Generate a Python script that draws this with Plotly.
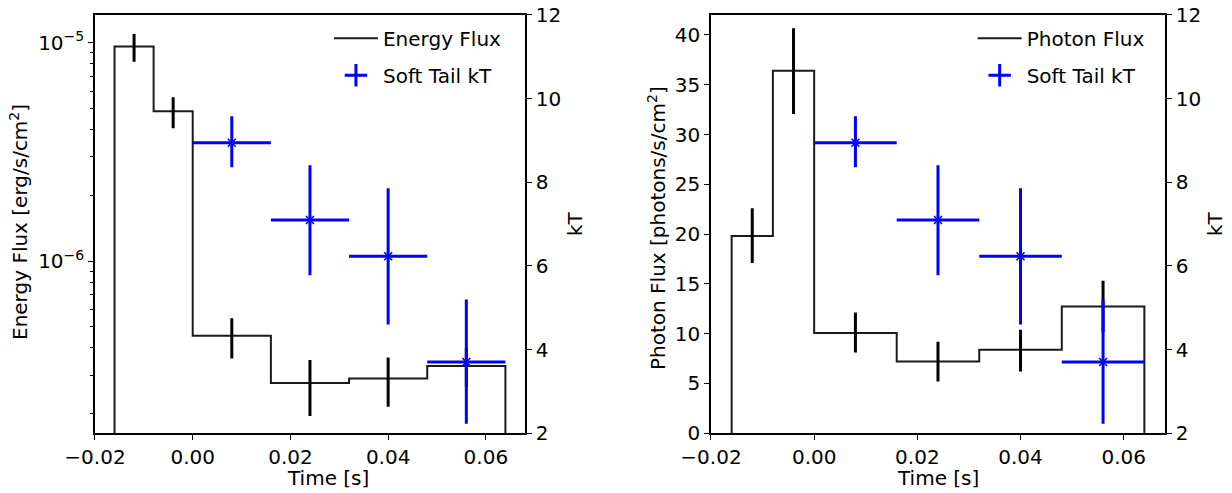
import plotly.graph_objects as go

# ---------------- data ----------------
bin_edges = [-0.016, -0.008, 0.0, 0.016, 0.032, 0.048, 0.064]
bin_centers = [-0.012, -0.004, 0.008, 0.024, 0.040, 0.056]

energy_flux = [9.6e-6, 4.86e-6, 4.55e-7, 2.76e-7, 2.90e-7, 3.31e-7]
energy_flux_hi = [1.096e-5, 5.62e-6, 5.47e-7, 3.52e-7, 3.62e-7, 4.0e-7]
energy_flux_lo = [8.18e-6, 4.06e-6, 3.58e-7, 1.95e-7, 2.15e-7, 2.65e-7]

photon_flux = [19.82, 36.39, 10.06, 7.21, 8.38, 12.73]
photon_flux_hi = [22.6, 40.67, 12.13, 9.18, 10.39, 15.31]
photon_flux_lo = [17.1, 32.07, 8.11, 5.20, 6.20, 10.15]

kt_time = [0.008, 0.024, 0.040, 0.056]
kt_time_halfwidth = [0.008, 0.008, 0.008, 0.008]
kt_value = [8.945, 7.10, 6.234, 3.706]
kt_hi = [9.58, 8.41, 7.86, 5.20]
kt_lo = [8.36, 5.78, 4.60, 2.23]

x_ticks = [-0.02, 0.0, 0.02, 0.04, 0.06]
x_ticktext = ["\u22120.02", "0.00", "0.02", "0.04", "0.06"]
kt_ticks = [2, 4, 6, 8, 10, 12]
log_major = [1e-6, 1e-5]
log_major_text = ["10<sup>\u22126</sup>", "10<sup>\u22125</sup>"]
log_minor = [m * 10 ** e for e in (-7, -6) for m in range(2, 10)]

FONT = "DejaVu Sans"
FS = 20
BLUE = "#0000ff"


def step_xy(edges, vals, base):
    xs, ys = [edges[0]], [base]
    for i, v in enumerate(vals):
        xs += [edges[i], edges[i + 1]]
        ys += [v, v]
    xs.append(edges[-1])
    ys.append(base)
    return xs, ys


fig = go.Figure()

# ---------- left panel ----------
sx, sy = step_xy(bin_edges, energy_flux, 1e-9)
fig.add_trace(go.Scatter(x=sx, y=sy, mode="lines", line=dict(color="#1a1a1a", width=2),
                         name="Energy Flux", xaxis="x", yaxis="y", legend="legend"))
fig.add_trace(go.Scatter(
    x=bin_centers, y=energy_flux, mode="markers", marker=dict(size=0.1, color="black", opacity=0),
    error_y=dict(type="data", symmetric=False,
                 array=[h - v for h, v in zip(energy_flux_hi, energy_flux)],
                 arrayminus=[v - l for v, l in zip(energy_flux, energy_flux_lo)],
                 color="black", thickness=3, width=0),
    showlegend=False, xaxis="x", yaxis="y", hoverinfo="skip"))

# ---------- right panel ----------
sx2, sy2 = step_xy(bin_edges, photon_flux, 0)
fig.add_trace(go.Scatter(x=sx2, y=sy2, mode="lines", line=dict(color="#1a1a1a", width=2),
                         name="Photon Flux", xaxis="x2", yaxis="y3", legend="legend2"))
fig.add_trace(go.Scatter(
    x=bin_centers, y=photon_flux, mode="markers", marker=dict(size=0.1, color="black", opacity=0),
    error_y=dict(type="data", symmetric=False,
                 array=[h - v for h, v in zip(photon_flux_hi, photon_flux)],
                 arrayminus=[v - l for v, l in zip(photon_flux, photon_flux_lo)],
                 color="black", thickness=3, width=0),
    showlegend=False, xaxis="x2", yaxis="y3", hoverinfo="skip"))

# ---------- kT on both panels ----------
for xa, ya, lg in (("x", "y2", "legend"), ("x2", "y4", "legend2")):
    fig.add_trace(go.Scatter(
        x=kt_time, y=kt_value, mode="markers",
        marker=dict(symbol="x-thin-open", size=8, color=BLUE, line=dict(color=BLUE, width=1.5)),
        error_x=dict(type="data", array=kt_time_halfwidth, color=BLUE, thickness=3, width=0),
        error_y=dict(type="data", symmetric=False,
                     array=[h - v for h, v in zip(kt_hi, kt_value)],
                     arrayminus=[v - l for v, l in zip(kt_value, kt_lo)],
                     color=BLUE, thickness=3, width=0),
        showlegend=False, xaxis=xa, yaxis=ya))
    # legend entry
    fig.add_trace(go.Scatter(
        x=[None], y=[None], mode="markers", name="Soft Tail kT",
        marker=dict(symbol="cross-thin-open", size=16, color=BLUE, line=dict(color=BLUE, width=3)),
        xaxis=xa, yaxis=ya, legend=lg))

axis_common = dict(showline=True, linecolor="black", linewidth=1.5, ticks="outside",
                   ticklen=5, tickwidth=1.3, tickcolor="black", showgrid=False, zeroline=False,
                   automargin=False,
                   tickfont=dict(family=FONT, size=FS, color="black"))

dom_y = [0.1211, 0.9696]
fig.update_layout(
    width=1232, height=493, margin=dict(l=0, r=0, t=0, b=0, pad=0, autoexpand=False),
    plot_bgcolor="white", paper_bgcolor="white",
    font=dict(family=FONT, size=FS, color="black"),
    xaxis=dict(domain=[0.0771, 0.4261], range=[-0.02, 0.068], tickvals=x_ticks,
               ticktext=x_ticktext, anchor="y", mirror=True, **axis_common),
    yaxis=dict(domain=dom_y, type="log", range=[-6.789, -4.873], tickvals=log_major,
               ticktext=log_major_text, anchor="x",
               minor=dict(tickvals=log_minor, ticks="outside", ticklen=3, tickwidth=1,
                          tickcolor="black", showgrid=False),
               **axis_common),
    yaxis2=dict(overlaying="y", side="right", anchor="x", range=[2, 12], tickvals=kt_ticks,
                **axis_common),
    xaxis2=dict(domain=[0.5771, 0.9456], range=[-0.02, 0.068], tickvals=x_ticks,
                ticktext=x_ticktext, anchor="y3", mirror=True, **axis_common),
    yaxis3=dict(domain=dom_y, range=[0, 42.0], dtick=5, anchor="x2", **axis_common),
    yaxis4=dict(overlaying="y3", side="right", anchor="x2", range=[2, 12], tickvals=kt_ticks,
                **axis_common),
    legend=dict(x=0.267, y=0.962, xanchor="left", yanchor="top", bgcolor="rgba(0,0,0,0)",
                font=dict(family=FONT, size=FS), itemwidth=44, tracegroupgap=8,
                traceorder="grouped"),
    legend2=dict(x=0.7895, y=0.962, xanchor="left", yanchor="top", bgcolor="rgba(0,0,0,0)",
                 font=dict(family=FONT, size=FS), itemwidth=44, tracegroupgap=8,
                 traceorder="grouped"),
)

# give each trace its own legend group so tracegroupgap spaces them
for i, tr in enumerate(fig.data):
    tr.legendgroup = f"g{i}"

ann = dict(xref="paper", yref="paper", showarrow=False, xanchor="center", yanchor="middle",
           font=dict(family=FONT, size=FS, color="black"))
W, H = 1232, 493
titles = [
    ("Time [s]", 328, 478, 0),
    ("Time [s]", 938, 478, 0),
    ("Energy Flux [erg/s/cm<sup>2</sup>]", 19, 222, -90),
    ("kT", 575, 224, -90),
    ("Photon Flux [photons/s/cm<sup>2</sup>]", 657, 228, -90),
    ("kT", 1215, 224, -90),
]
for text, px, py, ang in titles:
    fig.add_annotation(text=text, x=px / W, y=1 - py / H, textangle=ang, **ann)

fig.write_html("out.html", config={"displayModeBar": False},
               post_script="document.body.style.margin='0px';")
